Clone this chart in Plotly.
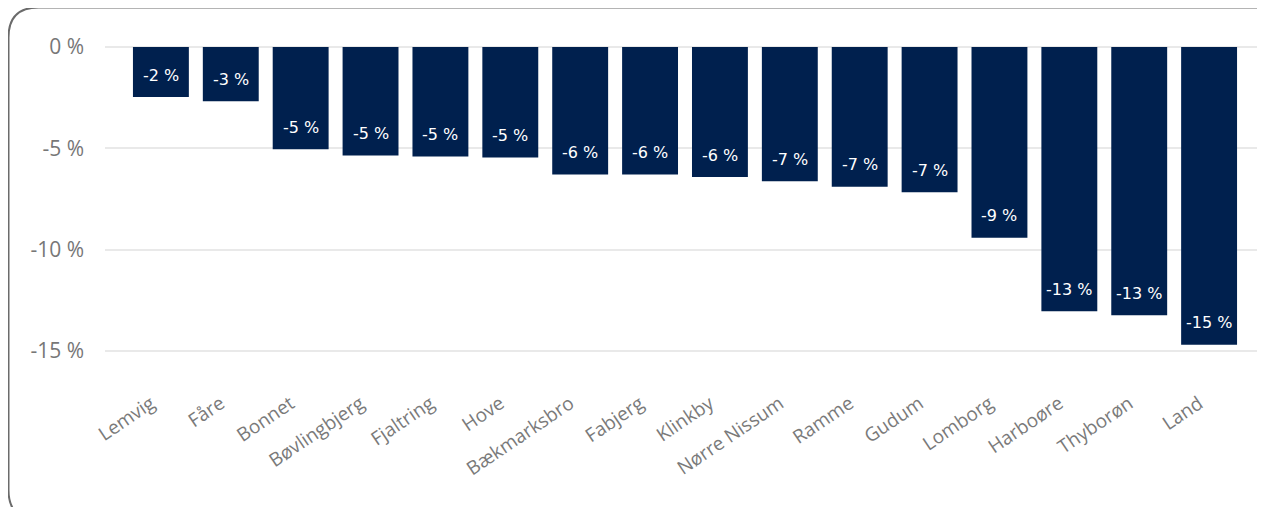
import plotly.graph_objects as go

categories = ["Lemvig", "Fåre", "Bonnet", "Bøvlingbjerg", "Fjaltring", "Hove",
              "Bækmarksbro", "Fabjerg", "Klinkby", "Nørre Nissum", "Ramme",
              "Gudum", "Lomborg", "Harboøre", "Thyborøn", "Land"]
values = [-2.47, -2.67, -5.05, -5.35, -5.4, -5.45, -6.29, -6.29, -6.42,
          -6.63, -6.9, -7.17, -9.42, -13.05, -13.25, -14.7]
tick_vals = [0, -5, -10, -15]
tick_text = ["0 %", "-5 %", "-10 %", "-15 %"]

OFF = 8  # page body margin
W, H = 1265 - OFF, 507 - OFF
ML, MR, MT, MB = 105 - OFF, 0, 41 - OFF, 136
PW, PH = W - ML - MR, H - MT - MB

def px(x):
    return (x - OFF - ML) / PW

def py(y):
    return (H - MB - (y - OFF)) / PH

fig = go.Figure()
fig.add_trace(go.Bar(
    x=categories, y=values, marker_color="#00204E", marker_line_width=0,
    hoverinfo="x+y"))

for c, v in zip(categories, values):
    fig.add_annotation(x=c, y=v, text=f"{round(v):d} %", showarrow=False,
                       yanchor="middle", yshift=22,
                       font=dict(family="DejaVu Sans", size=16, color="white"))

# rounded border
x0, y0, x1, y1, r = 8.5, 7.5, 1290, 520, 30
path = (f"M {px(x0)},{py(y0 + r)} "
        f"Q {px(x0)},{py(y0)} {px(x0 + r)},{py(y0)} "
        f"L {px(x1 - r)},{py(y0)} "
        f"Q {px(x1)},{py(y0)} {px(x1)},{py(y0 + r)} "
        f"L {px(x1)},{py(y1 - r)} "
        f"Q {px(x1)},{py(y1)} {px(x1 - r)},{py(y1)} "
        f"L {px(x0 + r)},{py(y1)} "
        f"Q {px(x0)},{py(y1)} {px(x0)},{py(y1 - r)} Z")
fig.add_shape(type="path", path=path, xref="paper", yref="paper",
              line=dict(color="#6b6b6b", width=2), layer="above")

fig.update_layout(
    width=W, height=H,
    margin=dict(l=ML, r=MR, t=MT, b=MB),
    paper_bgcolor="white", plot_bgcolor="white",
    bargap=0.2, showlegend=False,
    font=dict(family="Open Sans", color="#777777"),
)
fig.update_xaxes(range=[-0.8, 15.8], tickangle=-34, showgrid=False,
                 tickfont=dict(size=19, color="#7a7a7a"), ticks="",
                 showline=False, ticklabelstandoff=17, ticklabelshift=-10)
fig.update_yaxes(range=[-16, 0.3], tickvals=tick_vals, ticktext=tick_text,
                 showgrid=True, gridcolor="#e9e9e9", gridwidth=1.5,
                 zeroline=False, tickfont=dict(size=21, color="#777777"),
                 ticks="", ticklabelstandoff=20)

fig.write_html("out.html")
